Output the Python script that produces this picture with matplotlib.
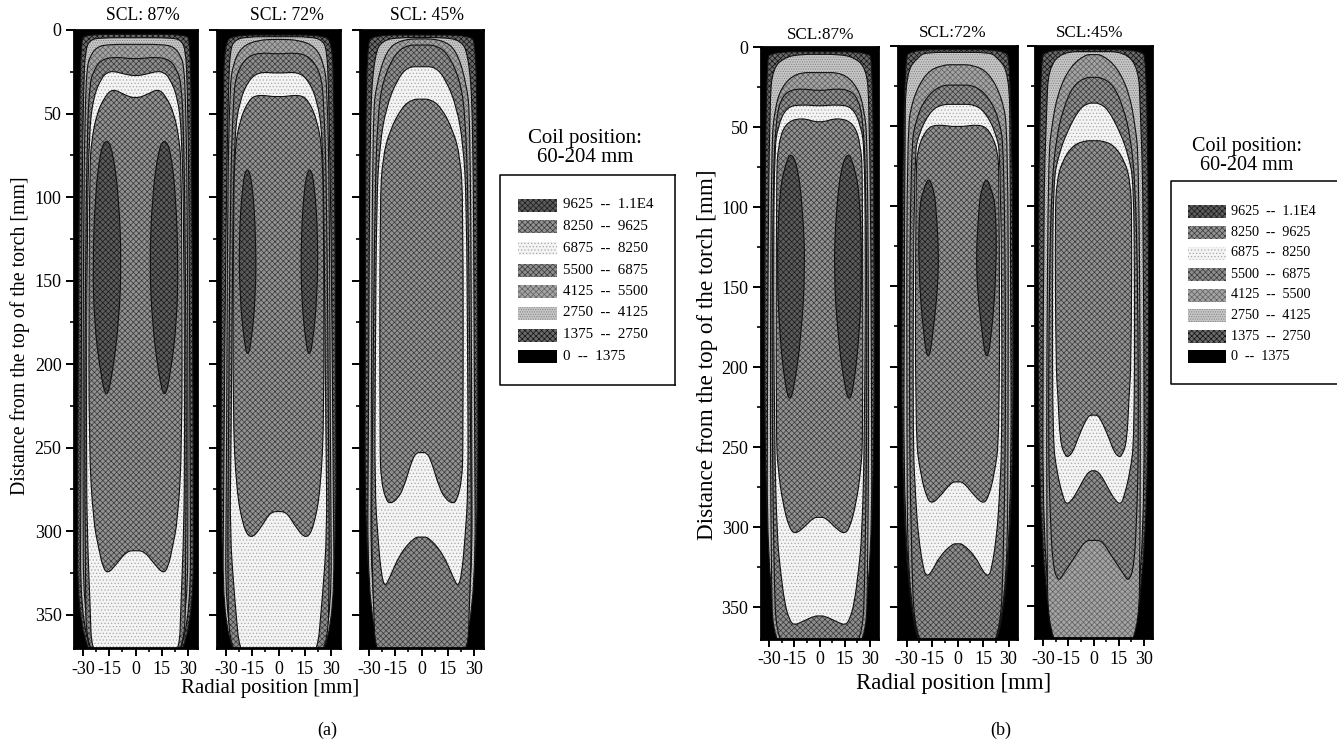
import matplotlib
matplotlib.use('Agg')
import matplotlib.pyplot as plt
from matplotlib.path import Path
from matplotlib.patches import PathPatch, Rectangle

plt.rcParams['font.family'] = ['Liberation Serif', 'DejaVu Serif']
plt.rcParams['hatch.linewidth'] = 0.5

W, H = 1337, 745

# half profiles of the contours as (radius mm, distance mm)
a87_c1 = [(0, 2.6), (28, 2.6), (31.5, 6), (32, 100), (33, 250), (33, 380), (0, 380)]
a87_c2 = [(0, 4.6), (20, 4.6), (26, 6), (28.5, 12), (29.5, 32), (30.5, 100), (31, 250), (31.5, 380), (0, 380)]
a87_c3 = [(0, 8.6), (15, 8.6), (22, 10), (26, 16), (27.5, 22), (28.5, 40), (29.5, 100), (30, 250), (29.5, 380), (0, 380)]
a87_c4 = [(0, 17.6), (12, 16), (20, 18), (24, 25), (26, 32), (27.5, 60), (28.5, 150), (29, 250), (28.5, 320), (28, 380), (0, 380)]
a87_c5 = [(0, 27.6), (6, 26.5), (12.6, 24.6), (16, 25.5), (19, 28), (24, 40), (26.4, 62), (27.5, 120), (28, 250), (27.5, 300), (26, 340), (24.7, 380), (0, 380)]
a87_c6 = [(0, 41), (6, 39), (13, 35), (17.5, 40), (22, 50), (25, 66), (26, 82), (26.5, 150), (26.5, 250), (24, 294), (21, 310), (18.5, 322), (15.7, 325.5), (11, 320), (5, 312), (0, 311.7)]
a87_c7 = [(16.5, 65), (20, 72), (23, 100), (24.3, 140), (23.5, 175), (20, 205), (16.5, 222), (13, 205), (9.5, 175), (8, 140), (9.5, 100), (13, 72)]

a72_c1 = [(0, 3), (26, 3), (30.6, 8), (31.5, 40), (32.5, 150), (33, 380), (0, 380)]
a72_c2 = [(0, 4), (18, 4), (25, 6), (27.5, 12), (28.5, 34), (30, 120), (31, 250), (32, 380), (0, 380)]
a72_c3 = [(0, 5.5), (12, 6), (21, 10), (25.8, 20), (27.7, 34), (29, 100), (29.5, 250), (30.5, 380), (0, 380)]
a72_c4 = [(0, 14.5), (10, 13.5), (18, 16), (24, 26), (25.8, 42), (27.5, 100), (28.5, 250), (29, 320), (28, 380), (0, 380)]
a72_c5 = [(0, 26), (11, 25), (17, 30), (22, 42), (25, 62), (26, 118), (27, 250), (27.7, 300), (25, 340), (21.5, 380), (0, 380)]
a72_c6 = [(0, 40.4), (12, 38.6), (17, 42), (22, 54), (25, 72), (25.7, 118), (26, 230), (24, 275), (20, 298), (15.7, 305), (10, 298), (5, 289), (0, 288)]
a72_c7 = [(17.8, 81), (20.5, 92), (22.5, 125), (22, 160), (19.5, 187), (17.5, 196), (15.5, 187), (13, 160), (12.8, 125), (14.8, 92)]

a45_c1 = [(0, 3), (27, 3), (31.3, 8), (31.8, 100), (32.5, 380), (0, 380)]
a45_c2 = [(0, 4.5), (12, 4.5), (22, 6), (26.6, 14), (29.4, 50), (30, 200), (31, 380), (0, 380)]
a45_c3 = [(0, 5), (12, 6), (19.9, 12), (25.6, 32), (27.7, 52), (28.5, 200), (29, 380), (0, 380)]
a45_c4 = [(0, 9), (8, 9), (15, 14), (22, 30), (25, 52), (26.5, 100), (27.5, 200), (28, 250), (28.5, 300), (27.5, 340), (26, 380), (0, 380)]
a45_c5 = [(0, 22), (8, 22), (14, 30), (20, 46), (23.7, 68), (25.6, 102), (26.3, 200), (26.6, 275), (24.8, 304), (23, 325), (21, 333.5), (18.5, 329), (12.3, 313.6), (4, 303.6), (0, 303.6)]
a45_c6 = [(0, 41.4), (5, 41.4), (11, 46), (18, 60), (22, 76), (23.7, 102), (23.7, 250), (23, 270), (20, 282), (17.5, 283.5), (14, 281), (10.4, 275), (5.6, 258), (3, 253), (0, 253)]

b87_c1 = [(0, 3), (28, 3), (32.7, 8), (33, 380), (0, 380)]
b87_c2 = [(0, 4.6), (10, 4.6), (20, 6), (28, 13), (29.8, 35), (31, 150), (31.5, 380), (0, 380)]
b87_c3 = [(0, 16), (14, 16), (22.8, 25), (26.8, 39), (28.7, 60), (29.5, 200), (29, 320), (27.7, 380), (0, 380)]
b87_c4 = [(0, 27.5), (10, 26), (18, 27), (22.8, 32), (25.8, 43.5), (27.8, 80), (28.5, 200), (27.5, 320), (25.5, 380), (0, 380)]
b87_c5 = [(0, 37), (10, 36), (19.8, 37.3), (25, 50), (26.8, 64), (27.5, 120), (27, 243), (25.4, 306), (23.4, 327), (20.8, 348), (18, 358), (15.3, 361.5), (10, 359), (3, 355.6), (0, 355.6)]
b87_c6 = [(0, 47.7), (11, 44), (20.8, 47.7), (24.8, 62), (25.8, 81), (26, 243), (24.8, 264), (22, 285), (18, 301), (14.5, 304.5), (9, 300), (3.5, 294), (0, 294)]
b87_c7 = [(17, 65.8), (20, 72), (24, 90), (25.5, 139), (23.8, 181), (20.5, 212), (17.8, 222), (15, 212), (11, 181), (8.5, 139), (10, 102), (13, 75)]

b72_c1 = [(0, 2.3), (26, 2.3), (32.5, 8), (33, 380), (0, 380)]
b72_c2 = [(0, 4), (18, 4), (22.5, 6), (30.4, 16.5), (31, 60), (32, 380), (0, 380)]
b72_c3 = [(0, 11.7), (9, 11.7), (18.5, 16.5), (26.5, 33), (29.6, 54), (30, 200), (29, 380), (0, 380)]
b72_c4 = [(0, 24.4), (10, 24.4), (18.5, 32), (24.5, 45.6), (27.4, 64.4), (28.5, 200), (27.5, 306), (24.8, 380), (0, 380)]
b72_c5 = [(0, 36.4), (10, 36.4), (16.5, 41.5), (22.5, 54), (25.5, 68.5), (26.4, 243), (24.5, 285), (23, 306), (20, 327), (18, 331), (15, 328), (10.6, 318.5), (3, 310.6), (0, 310.6)]
b72_c6 = [(0, 50.8), (12.6, 48.8), (18.5, 52), (23.6, 64.4), (24.5, 81), (24.9, 243), (21.5, 268.5), (18, 282), (15.3, 285.5), (11, 282), (3.5, 272), (0, 272)]
b72_c7 = [(17, 81.5), (20, 90), (22.5, 100), (23, 139), (20, 181), (17.2, 197.6), (14.5, 181), (10.6, 139), (12.6, 100), (14, 90)]

b45_c1 = [(0, 2.3), (27, 2.3), (33, 8), (33, 380), (0, 380)]
b45_c2 = [(0, 3.5), (19, 3.5), (27, 14.4), (28, 39), (30, 100), (30.5, 380), (0, 380)]
b45_c3 = [(0, 5.4), (5, 5.4), (14, 13), (21.3, 29), (25, 50), (27, 70), (28, 200), (28, 300), (27, 380), (0, 380)]
b45_c4 = [(0, 19.6), (5, 19.6), (12.4, 25), (18, 39), (22, 56), (25, 85), (26.5, 150), (27, 250), (26, 291), (24.4, 325), (21, 335), (18, 330), (11, 319), (5, 309), (0, 309)]
b45_c5 = [(0, 35.7), (3, 35.7), (8.4, 39), (16, 54), (21, 68.6), (24, 85), (24.6, 150), (24.4, 245.6), (22, 266), (18, 283), (16, 286.5), (13, 284), (9.5, 278), (4, 267), (0, 264.8)]
b45_c6 = [(0, 59.2), (5, 59.2), (12.4, 62), (19, 72.6), (22, 85), (23, 106), (22.5, 200), (21.3, 218), (20, 247.5), (17, 256), (15, 257), (12, 253), (9.5, 245.6), (3.5, 231), (0, 230.6)]

legend_labels = ['9625  --  1.1E4', '8250  --  9625', '6875  --  8250', '5500  --  6875',
                 '4125  --  5500', '2750  --  4125', '1375  --  2750', '0  --  1375']
x_ticks = [-30, -15, 0, 15, 30]
x_ticklabels = ['-30', '-15', '0', '15', '30']
y_ticks = [0, 50, 100, 150, 200, 250, 300, 350]

# face colour and hatch of each level, from 1375-2750 up to 9625-1.1E4
fills = [('#6a6a6a', 'xxxxxx', '#101010'),
         ('#c6c6c6', '.......', '#808080'),
         ('#a4a4a4', 'xxxxxx', '#606060'),
         ('#8e8e8e', 'xxxxxx', '#383838'),
         ('#f4f4f4', '.....', '#a8a8a8'),
         ('#929292', 'xxxxxx', '#383838'),
         ('#5c5c5c', 'xxxxxx', '#1a1a1a')]


def smooth(points):
    # points are control points, the curve passes through their midpoints
    n = len(points)
    verts = [((points[-1][0] + points[0][0]) / 2, (points[-1][1] + points[0][1]) / 2)]
    codes = [Path.MOVETO]
    for i in range(n):
        p = points[i]
        q = points[(i + 1) % n]
        verts.append(p)
        codes.append(Path.CURVE3)
        verts.append(((p[0] + q[0]) / 2, (p[1] + q[1]) / 2))
        codes.append(Path.CURVE3)
    return Path(verts, codes)


def mirror(half):
    left = [(-r, z) for r, z in reversed(half) if r != 0]
    return left + list(half)


def px_axes(left, top, right, bottom):
    return fig.add_axes([left / W, 1 - bottom / H, (right - left) / W, (bottom - top) / H])


def fill_level(ax, pts, level):
    face, hatch, ink = fills[level]
    path = smooth(pts)
    ax.add_patch(PathPatch(path, facecolor=face, edgecolor=ink, hatch=hatch, lw=0))
    ax.add_patch(PathPatch(path, facecolor='none', edgecolor='#111111', lw=0.8))


def draw_panel(box, contours, loop, labels):
    ax = px_axes(*box)
    ax.set_facecolor('black')
    for level, half in enumerate(contours):
        fill_level(ax, mirror(half), level)
    if loop is not None:
        fill_level(ax, loop, 6)
        fill_level(ax, [(-r, z) for r, z in loop], 6)
    ax.set_xlim(-35, 35)
    ax.set_ylim(370, 0)
    ax.set_xticks(x_ticks)
    ax.set_xticklabels(x_ticklabels)
    ax.set_xticks([-22.5, -7.5, 7.5, 22.5], minor=True)
    ax.set_yticks(y_ticks)
    ax.set_yticks([25, 75, 125, 175, 225, 275, 325], minor=True)
    ax.tick_params(which='major', length=6, width=1.4, labelsize=13, pad=3)
    ax.tick_params(which='minor', length=3, width=1.2)
    if not labels:
        ax.tick_params(axis='y', which='major', labelleft=False)
    for side in ax.spines.values():
        side.set_linewidth(2)
    return ax


fig = plt.figure(figsize=(W / 100, H / 100), dpi=100)

draw_panel((74, 30, 197, 648), [a87_c1, a87_c2, a87_c3, a87_c4, a87_c5, a87_c6], a87_c7, True)
draw_panel((217, 30, 340, 648), [a72_c1, a72_c2, a72_c3, a72_c4, a72_c5, a72_c6], a72_c7, False)
draw_panel((360, 30, 483, 648), [a45_c1, a45_c2, a45_c3, a45_c4, a45_c5, a45_c6], None, False)
draw_panel((761, 47, 878, 639), [b87_c1, b87_c2, b87_c3, b87_c4, b87_c5, b87_c6], b87_c7, True)
draw_panel((898, 46, 1017, 639), [b72_c1, b72_c2, b72_c3, b72_c4, b72_c5, b72_c6], b72_c7, False)
draw_panel((1035, 46, 1152, 638), [b45_c1, b45_c2, b45_c3, b45_c4, b45_c5, b45_c6], None, False)

# layer in image pixels for the loose text and the two legends
page = fig.add_axes([0, 0, 1, 1], zorder=5)
page.set_xlim(0, W)
page.set_ylim(H, 0)
page.axis('off')

for x, y, s in [(143, 16, 'SCL: 87%'), (287, 16, 'SCL: 72%'), (427, 16, 'SCL: 45%')]:
    page.text(x, y, s, ha='center', va='center', fontsize=12.7)
for x, y, s in [(821, 35, 'SCL:87%'), (953, 33, 'SCL:72%'), (1090, 33, 'SCL:45%')]:
    page.text(x, y, s, ha='center', va='center', fontsize=12.3)

page.text(20, 336, 'Distance from the top of the torch [mm]', rotation=90, ha='center', va='center', fontsize=14.3)
page.text(707, 355, 'Distance from the top of the torch [mm]', rotation=90, ha='center', va='center', fontsize=16.7)
page.text(270, 689, 'Radial position [mm]', ha='center', va='center', fontsize=15)
page.text(954, 684, 'Radial position [mm]', ha='center', va='center', fontsize=16.4)
page.text(327, 730, '(a)', ha='center', va='center', fontsize=13)
page.text(1001, 730, '(b)', ha='center', va='center', fontsize=13)


def draw_legend(box, title_x, title_ys, title_size, sw_x, sw_w, rows, text_x, text_size, open_right=False):
    left, top, right, bottom = box
    page.plot([right, left, left, right], [top, top, bottom, bottom], color='black', lw=1.1, clip_on=False)
    if not open_right:
        page.plot([right, right], [top, bottom], color='black', lw=1.1)
    page.text(title_x, title_ys[0], 'Coil position:', ha='center', va='center', fontsize=title_size)
    page.text(title_x, title_ys[1], '60-204 mm', ha='center', va='center', fontsize=title_size)
    styles = [fills[6], fills[5], fills[4], fills[3], fills[2], fills[1], fills[0], ('#000000', None, '#000000')]
    for y, label, (face, hatch, ink) in zip(rows, legend_labels, styles):
        page.add_patch(Rectangle((sw_x, y - 6.5), sw_w, 13, facecolor=face, edgecolor=ink, hatch=hatch, lw=0))
        page.text(text_x, y, label, ha='left', va='center', fontsize=text_size)


draw_legend((500, 175, 675, 385), 585, (138, 158), 15, 518, 39,
            [205, 226.7, 248, 270, 291.7, 313, 335, 356.7], 563, 10.8)
draw_legend((1171, 181, 1337, 384), 1247, (147, 166), 14.5, 1188, 38,
            [211.7, 232.7, 253, 274, 295, 315.7, 336.7, 356.7], 1231, 10.2, open_right=True)

fig.savefig('out.png', dpi=100)
